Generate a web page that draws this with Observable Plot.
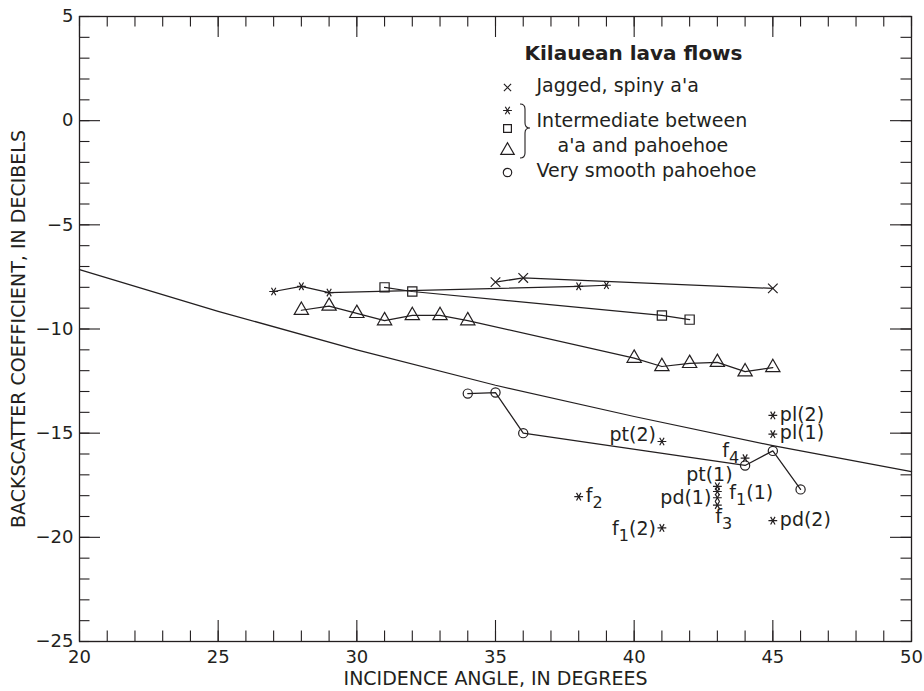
<!DOCTYPE html>
<html><head><meta charset="utf-8">
<script src="https://cdn.jsdelivr.net/npm/d3@7"></script>
<script src="https://cdn.jsdelivr.net/npm/@observablehq/plot@0.6"></script>
<style>
html,body{margin:0;padding:0;background:#fff;}
</style>
</head><body><div id="chart"></div>
<script>
// ---------------- data ----------------
const xTicksMajor = [20, 25, 30, 35, 40, 45, 50];
const yTicksMajor = [-25, -20, -15, -10, -5, 0, 5];
const xTicksMinor = d3.range(20, 51, 1);
const yTicksMinor = d3.range(-25, 6, 1);
const xTitle = "INCIDENCE ANGLE, IN DEGREES";
const yTitle = "BACKSCATTER COEFFICIENT, IN DECIBELS";

// Jagged, spiny a'a (x)
const jaggedX = [35, 36, 45];
const jaggedY = [-7.75, -7.55, -8.05];
// Intermediate (asterisk)
const asteriskX = [27, 28, 29, 38, 39];
const asteriskY = [-8.2, -7.95, -8.25, -7.95, -7.9];
// Intermediate (square)
const squareX = [31, 32, 41, 42];
const squareY = [-8.0, -8.2, -9.35, -9.55];
// Intermediate (triangle)
const triangleX = [28, 29, 30, 31, 32, 33, 34, 40, 41, 42, 43, 44, 45];
const triangleY = [-9.1, -8.9, -9.25, -9.6, -9.35, -9.35, -9.6, -11.4, -11.8, -11.65, -11.6, -12.05, -11.85];
// Very smooth pahoehoe (circle)
const circleX = [34, 35, 36, 44, 45, 46];
const circleY = [-13.1, -13.05, -15.0, -16.55, -15.85, -17.7];
// Reference curve
const refX = [20, 25, 30, 35, 40, 45, 50];
const refY = [-7.15, -9.15, -11.0, -12.7, -14.2, -15.6, -16.85];
// Labelled sites (asterisks)
const siteNames = ["pl(2)", "pl(1)", "pt(2)", "f_4", "pt(1)", "f_1(1)", "pd(1)", "f_3", "f_2", "f_1(2)", "pd(2)"];
const siteX = [45, 45, 41, 44, 43, 43, 43, 43, 38, 41, 45];
const siteY = [-14.15, -15.05, -15.4, -16.2, -17.55, -17.8, -18.1, -18.45, -18.05, -19.55, -19.2];
const siteSide = ["right", "right", "upLeft", "upLeft", "above", "rightFar", "left", "below", "right", "left", "right"];

const legendTitle = "Kilauean lava flows";
const legendLabels = ["Jagged, spiny a'a", "Intermediate between", "a'a and pahoehoe", "Very smooth pahoehoe"];

// ---------------- styling ----------------
const ink = "#231f20";
const font = "DejaVu Sans";
const W = 924, H = 691;
const mL = 79, mR = 13, mT = 16, mB = 50;
const fw = W - mL - mR, fh = H - mT - mB;

const asteriskSym = {
  draw(ctx, size) {
    const r = Math.sqrt(size / Math.PI);
    for (const a of [0, 60, 120]) {
      const t = a * Math.PI / 180, c = Math.cos(t) * r, s = Math.sin(t) * r;
      ctx.moveTo(-c, -s); ctx.lineTo(c, s);
    }
  }
};
const timesSym = {
  draw(ctx, size) {
    const r = Math.sqrt(size / Math.PI);
    ctx.moveTo(-r, -r); ctx.lineTo(r, r);
    ctx.moveTo(-r, r); ctx.lineTo(r, -r);
  }
};

const idx = (a) => d3.range(a.length);
const seriesLine = (X, Y) => Plot.line(idx(X), {x: i => X[i], y: i => Y[i], stroke: ink, strokeWidth: 1.25});
const seriesDots = (X, Y, symbol, r) => Plot.dot(idx(X), {x: i => X[i], y: i => Y[i], symbol, r, stroke: ink, fill: "none", strokeWidth: 1.2});

const sides = {
  right: {dx: 7, dy: -1, anchor: "start"},
  rightFar: {dx: 12, dy: 1, anchor: "start"},
  left: {dx: -6, dy: 0.5, anchor: "end"},
  upLeft: {dx: -6, dy: -7, anchor: "end"},
  above: {dx: -8, dy: -11, anchor: "middle"},
  below: {dx: -2, dy: 12, anchor: "start"}
};
const labelMarks = Object.entries(sides).map(([side, o]) =>
  Plot.text(idx(siteNames).filter(i => siteSide[i] === side), {
    x: i => siteX[i], y: i => siteY[i], text: i => siteNames[i],
    dx: o.dx, dy: o.dy, textAnchor: o.anchor, lineAnchor: "middle", fontSize: 19, fill: ink
  })
);

const legendRows = [
  {sym: timesSym, r: 3.6, dy: 71},
  {sym: asteriskSym, r: 4.4, dy: 94},
  {sym: "square", r: 4.4, dy: 112},
  {sym: "triangle", r: 5.0, dy: 134},
  {sym: "circle", r: 4.2, dy: 156}
];
const legendTextDy = [69.5, 104, 129, 154];
const legendTextDx = [457, 457, 478, 457];

const plot = Plot.plot({
  width: W, height: H,
  marginLeft: mL, marginRight: mR, marginTop: mT, marginBottom: mB,
  style: {fontFamily: font, fontSize: "18px", color: ink, background: "white"},
  x: {domain: [20, 50], ticks: xTicksMajor, tickSize: 0, tickPadding: 9, label: null},
  y: {domain: [-25, 5], ticks: yTicksMajor, tickSize: 0, tickPadding: 6, label: null},
  marks: [
    // inward ticks on all four sides
    Plot.ruleX(xTicksMinor, {x: d => d, insetTop: fh - 10.5, stroke: ink, strokeWidth: 1.1}),
    Plot.ruleX(xTicksMajor, {x: d => d, insetTop: fh - 21, stroke: ink, strokeWidth: 1.1}),
    Plot.ruleX(xTicksMinor, {x: d => d, insetBottom: fh - 10.5, stroke: ink, strokeWidth: 1.1}),
    Plot.ruleX(xTicksMajor, {x: d => d, insetBottom: fh - 21, stroke: ink, strokeWidth: 1.1}),
    Plot.ruleY(yTicksMinor, {y: d => d, insetRight: fw - 10.5, stroke: ink, strokeWidth: 1.1}),
    Plot.ruleY(yTicksMajor, {y: d => d, insetRight: fw - 21, stroke: ink, strokeWidth: 1.1}),
    Plot.ruleY(yTicksMinor, {y: d => d, insetLeft: fw - 10.5, stroke: ink, strokeWidth: 1.1}),
    Plot.ruleY(yTicksMajor, {y: d => d, insetLeft: fw - 21, stroke: ink, strokeWidth: 1.1}),
    Plot.frame({stroke: ink, strokeWidth: 1.3}),
    // axis titles
    Plot.text([xTitle], {frameAnchor: "bottom", dy: 37.5, text: d => d, fontSize: 19, textAnchor: "middle", lineAnchor: "middle", fill: ink}),
    Plot.text([yTitle], {frameAnchor: "left", dx: -61, rotate: -90, text: d => d, fontSize: 19, textAnchor: "middle", lineAnchor: "middle", fill: ink}),
    // reference curve
    seriesLine(refX, refY),
    // series
    seriesLine(jaggedX, jaggedY), seriesDots(jaggedX, jaggedY, timesSym, 4.8),
    seriesLine(asteriskX, asteriskY), seriesDots(asteriskX, asteriskY, asteriskSym, 4.4),
    seriesLine(squareX, squareY), seriesDots(squareX, squareY, "square", 5.2),
    seriesLine(triangleX, triangleY), seriesDots(triangleX, triangleY, "triangle", 5.3),
    seriesLine(circleX, circleY), seriesDots(circleX, circleY, "circle", 4.6),
    // labelled asterisks
    seriesDots(siteX, siteY, asteriskSym, 4.4),
    ...labelMarks,
    // legend
    Plot.text([legendTitle], {frameAnchor: "top-left", dx: 554, dy: 37, text: d => d, fontSize: 20, fontWeight: "bold", textAnchor: "middle", lineAnchor: "middle", fill: ink}),
    ...legendRows.map(row => Plot.dot([0], {frameAnchor: "top-left", dx: 428, dy: row.dy, symbol: row.sym, r: row.r, stroke: ink, fill: "none", strokeWidth: 1.2})),
    ...legendLabels.map((t, i) => Plot.text([t], {frameAnchor: "top-left", dx: legendTextDx[i], dy: legendTextDy[i], text: d => d, fontSize: 19, textAnchor: "start", lineAnchor: "middle", fill: ink}))
  ]
});

// subscripts for labels like f_1(2)
d3.select(plot).selectAll("text").each(function() {
  const el = this;
  if (el.querySelector("tspan")) return;
  const s = el.textContent;
  const m = s.match(/^(.*?)_(\d)(.*)$/);
  if (!m) return;
  el.textContent = "";
  const sel = d3.select(el);
  sel.append("tspan").text(m[1]);
  sel.append("tspan").attr("dy", "6").attr("font-size", "16").text(m[2]);
  sel.append("tspan").attr("dy", "-6").text(m[3]);
});

// legend brace
{
  const x0 = mL + 441, x1 = mL + 446, x2 = mL + 451;
  const y0 = mT + 88, ym = mT + 112, y1 = mT + 142;
  const p = d3.path();
  p.moveTo(x0, y0);
  p.quadraticCurveTo(x1, y0, x1, y0 + 5);
  p.lineTo(x1, ym - 5);
  p.quadraticCurveTo(x1, ym, x2, ym);
  p.quadraticCurveTo(x1, ym, x1, ym + 5);
  p.lineTo(x1, y1 - 5);
  p.quadraticCurveTo(x1, y1, x0, y1);
  d3.select(plot).append("path").attr("d", p.toString()).attr("fill", "none").attr("stroke", ink).attr("stroke-width", 1.1);
}

document.getElementById("chart").appendChild(plot);
</script>
</body></html>
